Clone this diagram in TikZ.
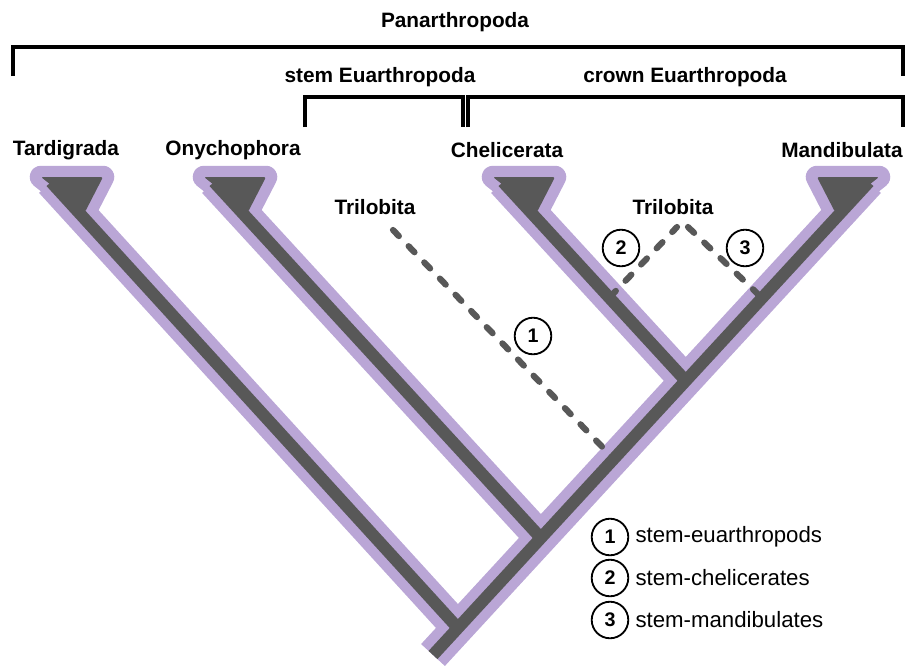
\documentclass[tikz,border=0pt]{standalone}
\usepackage{fontspec}
\setmainfont{Liberation Sans}
\usepackage{xcolor}
\usetikzlibrary{calc}
\definecolor{lilac}{RGB}{186,166,214}
\definecolor{branchgray}{RGB}{88,88,88}

\begin{document}
\begin{tikzpicture}[
    x=0.025cm, y=-0.025cm,
    taxon/.style={font=\fontsize{14.8}{16}\selectfont\bfseries},
    halo/.style={lilac, line width=23pt},
    stemline/.style={branchgray, line width=8.6pt},
    fossil/.style={branchgray, line width=4.4pt, line cap=round, dash pattern=on 6pt off 10pt},
    num/.style={circle, draw, line width=1.3pt, minimum size=26pt, inner sep=0pt,
      font=\fontsize{14}{16}\selectfont\bfseries},
    legend/.style={anchor=west, font=\fontsize{15.8}{18}\selectfont},
    clade/.style={line width=2.2pt},
  ]
    % Canvas in pixel units (908 x 666), y grows downwards
    \useasboundingbox (0,0) rectangle (908,666);

    % Tree points: trunk runs from root up to Mandibulata
    \coordinate (root) at (433,655);
    \coordinate (jTar) at (457,627);
    \coordinate (jOny) at (540,537);
    \coordinate (jTri) at (613,458);
    \coordinate (jChe) at (685,380);
    \coordinate (tMan) at (869,182);
    \coordinate (tTar) at (51,182);
    \coordinate (tOny) at (214,182);
    \coordinate (tChe) at (503,182);
    % Trilobita attachment points
    \coordinate (sChe) at (610,297);
    \coordinate (sMan) at (761,297);
    \coordinate (tri1) at (393,230);
    \coordinate (tri2) at (677,227);
    \coordinate (tri3) at (688,227);

    % --- Lilac halo
    \foreach \t in {tTar,tOny,tChe} {
      \filldraw[lilac, line width=16pt, line join=round]
        ($(\t)+(-10,-5)$) -- ($(\t)+(52,-5)$) -- ($(\t)+(34,30)$) -- cycle;
    }
    \filldraw[lilac, line width=16pt, line join=round]
      ($(tMan)+(10,-5)$) -- ($(tMan)+(-52,-5)$) -- ($(tMan)+(-34,30)$) -- cycle;
    \draw[halo] (root) -- (tMan);
    \draw[halo] (jTar) -- (tTar);
    \draw[halo] (jOny) -- (tOny);
    \draw[halo] (jChe) -- (tChe);

    % --- Fossil lineages (dashed)
    \draw[fossil] (tri1) -- (jTri);
    \draw[fossil] (sChe) -- (tri2);
    \draw[fossil] (tri3) -- (sMan);

    % --- Dark branches
    \foreach \t in {tTar,tOny,tChe} {
      \fill[branchgray, rounded corners=1.5pt]
        ($(\t)+(-10,-5)$) -- ($(\t)+(52,-5)$) -- ($(\t)+(34,30)$) -- cycle;
    }
    \fill[branchgray, rounded corners=1.5pt]
      ($(tMan)+(10,-5)$) -- ($(tMan)+(-52,-5)$) -- ($(tMan)+(-34,30)$) -- cycle;
    \draw[stemline] (root) -- (tMan);
    \draw[stemline] (jTar) -- (tTar);
    \draw[stemline] (jOny) -- (tOny);
    \draw[stemline] (jChe) -- (tChe);

    % --- Clade brackets
    \draw[clade] (13,76) |- (903,47) -- (903,76);
    \draw[clade] (305,127) |- (463,97) -- (463,127);
    \draw[clade] (468,127) |- (903,97) -- (903,127);
    \node[taxon] (panar) at (455,22) {Panarthropoda};
    \node[taxon] (stemE) at (380,77) {stem Euarthropoda};
    \node[taxon] (crownE) at (685,77) {crown Euarthropoda};

    % --- Taxon labels
    \node[taxon] (lTar) at (66,150) {Tardigrada};
    \node[taxon] (lOny) at (233,150) {Onychophora};
    \node[taxon] (lChe) at (507,150) {Chelicerata};
    \node[taxon] (lMan) at (842,150) {Mandibulata};
    \node[taxon] (lTri1) at (375,207) {Trilobita};
    \node[taxon] (lTri2) at (673,207) {Trilobita};

    % --- Numbered markers
    \node[num] (c1) at (533,336) {1};
    \node[num] (c2) at (621,248) {2};
    \node[num] (c3) at (745,248) {3};

    % --- Legend
    \node[num] (k1) at (610,537) {1};
    \node[legend] (k1txt) at ([xshift=1pt]k1.east) {stem-euarthropods};
    \node[num] (k2) at (610,578) {2};
    \node[legend] (k2txt) at ([xshift=1pt]k2.east) {stem-chelicerates};
    \node[num] (k3) at (610,620) {3};
    \node[legend] (k3txt) at ([xshift=1pt]k3.east) {stem-mandibulates};
\end{tikzpicture}
\end{document}
